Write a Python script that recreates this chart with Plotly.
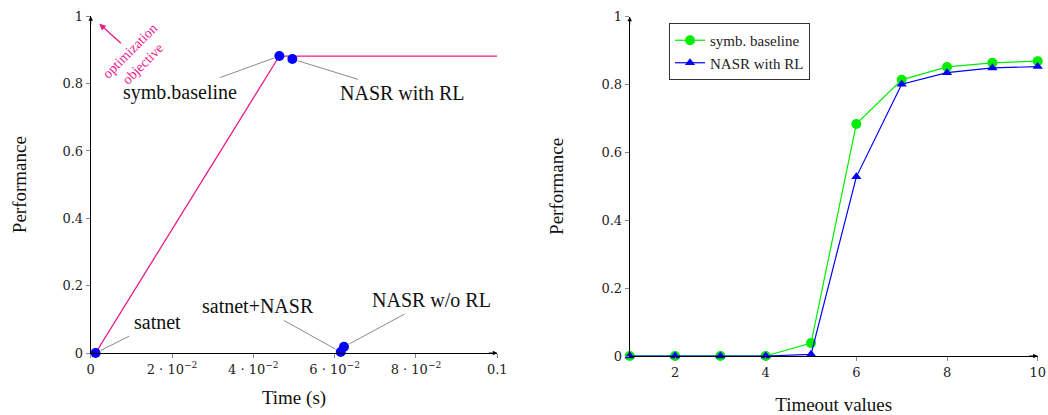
import plotly.graph_objects as go

# ---------------- data ----------------
# left: performance vs time
method_names = ["satnet", "satnet+NASR", "NASR w/o RL", "symb.baseline", "NASR with RL"]
method_time = [0.0012, 0.0615, 0.0623, 0.0464, 0.0496]
method_perf = [0.0, 0.003, 0.0185, 0.882, 0.873]
pareto_time = [0.0012, 0.0464, 0.1]
pareto_perf = [0.0, 0.882, 0.882]
left_xticks = [0, 0.02, 0.04, 0.06, 0.08, 0.1]
left_xticktext = ["0", "2 · 10<sup>−2</sup>", "4 · 10<sup>−2</sup>", "6 · 10<sup>−2</sup>",
                  "8 · 10<sup>−2</sup>", "0.1"]
perf_ticks = [0, 0.2, 0.4, 0.6, 0.8, 1]
perf_ticktext = ["0", "0.2", "0.4", "0.6", "0.8", "1"]

# right: performance vs timeout
timeouts = [1, 2, 3, 4, 5, 6, 7, 8, 9, 10]
symb_baseline = [0, 0, 0, 0, 0.038, 0.684, 0.814, 0.852, 0.864, 0.869]
nasr_rl = [0, 0, 0, 0, 0.005, 0.528, 0.801, 0.835, 0.849, 0.853]
right_xticks = [2, 4, 6, 8, 10]

# ---------------- styling ----------------
W, H = 1048, 415
SERIF = "Liberation Serif"
TICKF = "DejaVu Serif"
PINK = "#ec1a8c"
BLUE = "#0000ff"
GREEN = "#00ee00"
GRAY = "#8a8a8a"


def dom_x(a, b):
    return [a / W, b / W]


def dom_y(top, bottom):
    return [(H - bottom) / H, (H - top) / H]


fig = go.Figure()

fig.add_trace(go.Scatter(x=pareto_time, y=pareto_perf, mode="lines",
                         line=dict(color=PINK, width=1.3), showlegend=False,
                         xaxis="x", yaxis="y", cliponaxis=False, hoverinfo="skip"))
fig.add_trace(go.Scatter(x=method_time, y=method_perf, mode="markers",
                         marker=dict(color=BLUE, size=10, symbol="circle"),
                         showlegend=False, xaxis="x", yaxis="y", cliponaxis=False))

fig.add_trace(go.Scatter(x=timeouts, y=symb_baseline, mode="lines+markers", name="symb. baseline",
                         line=dict(color=GREEN, width=1.2),
                         marker=dict(color=GREEN, size=10, symbol="circle"),
                         xaxis="x2", yaxis="y2", cliponaxis=False))
fig.add_trace(go.Scatter(x=timeouts, y=nasr_rl, mode="lines+markers", name="NASR with RL",
                         line=dict(color=BLUE, width=1.2),
                         marker=dict(color=BLUE, size=9, symbol="triangle-up"),
                         xaxis="x2", yaxis="y2", cliponaxis=False))

tickfont = dict(family=TICKF, size=13, color="#222")
titlefont = dict(family=SERIF, size=19, color="#111")

common_ax = dict(showgrid=False, zeroline=False, showline=True, linecolor="black", linewidth=1,
                 ticks="outside", ticklen=4, tickcolor=GRAY, tickwidth=1, tickfont=tickfont,
                 automargin=False)
inner_ax = dict(showgrid=False, zeroline=False, showline=False, ticks="inside", ticklen=4,
                tickcolor=GRAY, tickwidth=1, showticklabels=False)

fig.update_layout(
    width=W, height=H, margin=dict(l=0, r=0, t=0, b=0, autoexpand=False),
    paper_bgcolor="white", plot_bgcolor="rgba(0,0,0,0)",
    font=dict(family=SERIF, size=13, color="black"),
    xaxis=dict(common_ax, domain=dom_x(90.7, 497.3), range=[0, 0.1], anchor="y",
               tickvals=left_xticks, ticktext=left_xticktext,
               title=dict(text="Time (s)", font=titlefont, standoff=15)),
    yaxis=dict(common_ax, domain=dom_y(16.3, 353), range=[0, 1], anchor="x",
               tickvals=perf_ticks, ticktext=perf_ticktext,
               title=dict(text="Performance", font=titlefont, standoff=30)),
    xaxis3=dict(inner_ax, overlaying="x", anchor="y", range=[0, 0.1], tickvals=left_xticks),
    yaxis3=dict(inner_ax, overlaying="y", anchor="x", range=[0, 1], tickvals=perf_ticks),
    xaxis2=dict(common_ax, domain=dom_x(629.7, 1037.7), range=[1, 10], anchor="y2",
                tickvals=right_xticks,
                title=dict(text="Timeout values", font=titlefont, standoff=27)),
    yaxis2=dict(common_ax, domain=dom_y(16.7, 356), range=[0, 1], anchor="x2",
                tickvals=perf_ticks, ticktext=perf_ticktext,
                title=dict(text="Performance", font=titlefont, standoff=32)),
    xaxis4=dict(inner_ax, overlaying="x2", anchor="y2", range=[1, 10], tickvals=right_xticks),
    yaxis4=dict(inner_ax, overlaying="y2", anchor="x2", range=[0, 1], tickvals=perf_ticks),
    legend=dict(x=669 / W, y=(H - 23) / H, xanchor="left", yanchor="top",
                bordercolor="#333", borderwidth=1, bgcolor="white",
                font=dict(family=SERIF, size=15, color="#222"), tracegroupgap=2),
)

# pin labels for the left chart
pin_offsets = [(62, -31), (-83, -46), (87, -47), (-99, 36), (110, 34)]
for name, tx, py, (ax, ay) in zip(method_names, method_time, method_perf, pin_offsets):
    fig.add_annotation(x=tx, y=py, xref="x", yref="y", text=name, showarrow=True,
                       ax=ax, ay=ay, arrowhead=0, arrowcolor=GRAY, arrowwidth=1,
                       standoff=6, startstandoff=4,
                       font=dict(family=SERIF, size=20, color="#111"))

# optimization objective arrow + label
fig.add_annotation(x=0.0021, y=0.978, xref="x", yref="y", ax=0.0078, ay=0.916,
                   axref="x", ayref="y", text="", showarrow=True, arrowhead=2,
                   arrowsize=1, arrowwidth=1.3, arrowcolor=PINK)
fig.add_annotation(x=0.0112, y=0.878, xref="x", yref="y", text="optimization<br>objective",
                   showarrow=False, textangle=-45,
                   font=dict(family=SERIF, size=14, color=PINK))

# axis arrow heads
for xr, yr, xv, yv, ax, ay in [("x", "y", 0.1, 0, -10, 0), ("x", "y", 0, 1, 0, 10),
                               ("x2", "y2", 10, 0, -10, 0), ("x2", "y2", 1, 1, 0, 10)]:
    fig.add_annotation(x=xv, y=yv, xref=xr, yref=yr, ax=ax, ay=ay, text="",
                       showarrow=True, arrowhead=2, arrowsize=0.9, arrowwidth=1,
                       arrowcolor="black")

fig.write_html("out.html", config={"displayModeBar": False},
               post_script="document.body.style.margin='0';")
